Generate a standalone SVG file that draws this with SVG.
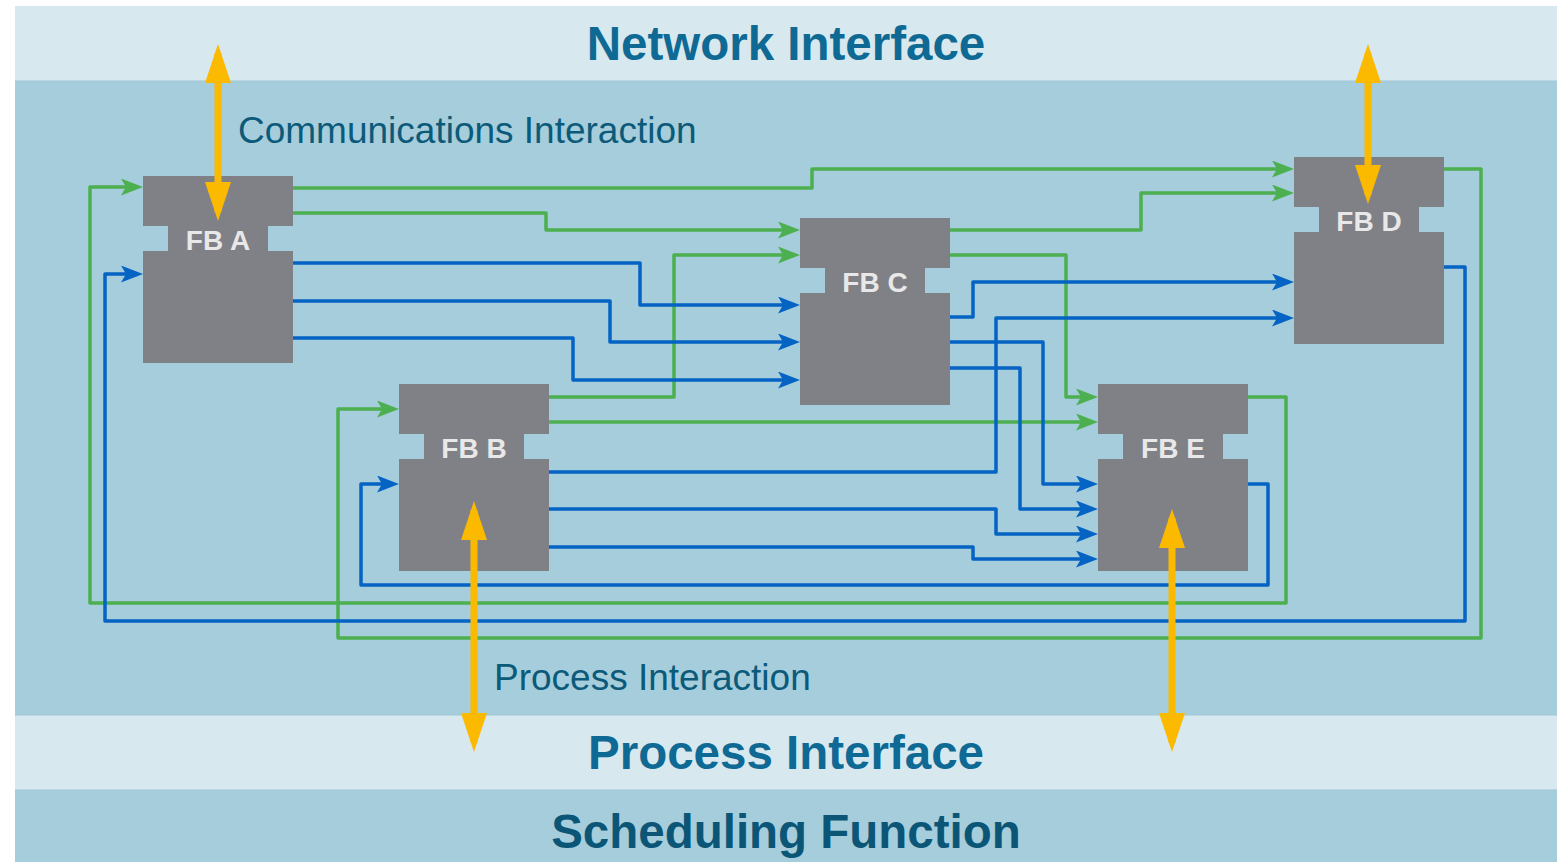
<svg xmlns="http://www.w3.org/2000/svg" width="1568" height="862" viewBox="0 0 1568 862">
  <style>
    .band-light { fill: #d8e8ef; }
    .band-dark { fill: #a6cddb; }
    .title { font-family: "Liberation Sans", Arial, sans-serif; font-weight: bold; font-size: 47.5px; text-anchor: middle; fill: #0e6a94; }
    .title-dark { fill: #0b5677; }
    .note { font-family: "Liberation Sans", Arial, sans-serif; font-size: 37px; fill: #0b5a7a; }
    .fb { fill: #808186; }
    .fb-label { font-family: "Liberation Sans", Arial, sans-serif; font-weight: bold; font-size: 28px; text-anchor: middle; fill: #e8e8e8; }
    .g { fill: none; stroke: #4caf50; stroke-width: 3.5; stroke-linejoin: round; marker-end: url(#headGreen); }
    .b { fill: none; stroke: #0563c4; stroke-width: 3.5; stroke-linejoin: round; marker-end: url(#headBlue); }
    .io { stroke: #fbb900; stroke-width: 7; marker-start: url(#headYellow); marker-end: url(#headYellow); }
  </style>
  <defs>
    <path id="fbShape" d="M0,0 H150 V50 H125 V75 H150 V187 H0 V75 H25 V50 H0 Z"/>
    <marker id="headGreen" viewBox="0 0 22 17" refX="16" refY="8.5" markerWidth="22" markerHeight="17" markerUnits="userSpaceOnUse" orient="auto">
      <path d="M0,0 L22,8.5 L0,17 L5,8.5 Z" fill="#4caf50"/>
    </marker>
    <marker id="headBlue" viewBox="0 0 22 17" refX="16" refY="8.5" markerWidth="22" markerHeight="17" markerUnits="userSpaceOnUse" orient="auto">
      <path d="M0,0 L22,8.5 L0,17 L5,8.5 Z" fill="#0563c4"/>
    </marker>
    <marker id="headYellow" viewBox="0 0 39 26" refX="30" refY="13" markerWidth="39" markerHeight="26" markerUnits="userSpaceOnUse" orient="auto-start-reverse">
      <path d="M0,0 L39,13 L0,26 Z" fill="#fbb900"/>
    </marker>
  </defs>

  <!-- layer bands -->
  <rect x="0" y="0" width="1568" height="862" fill="#ffffff"/>
  <rect class="band-light" x="15" y="6" width="1542" height="75"/>
  <rect class="band-dark" x="15" y="81" width="1542" height="634"/>
  <rect class="band-light" x="15" y="715" width="1542" height="75"/>
  <rect class="band-dark" x="15" y="790" width="1542" height="72"/>
  <line x1="15" y1="81" x2="1557" y2="81" stroke="#9fc7d6" stroke-width="1"/>
  <line x1="15" y1="715" x2="1557" y2="715" stroke="#9fc7d6" stroke-width="1"/>
  <line x1="15" y1="790" x2="1557" y2="790" stroke="#9fc7d6" stroke-width="1"/>

  <text class="title" x="786" y="60">Network Interface</text>
  <text class="title" x="786" y="769">Process Interface</text>
  <text class="title title-dark" x="786" y="848">Scheduling Function</text>
  <text class="note" x="238" y="143">Communications Interaction</text>
  <text class="note" x="494" y="690">Process Interaction</text>

  <!-- data (green) and event (blue) connections -->
  <g id="connectors">
    <path class="g" d="M293,188 H812 V169 H1288"/>
    <path class="g" d="M293,213 H546 V230 H794"/>
    <path class="g" d="M549,397 H674 V255 H794"/>
    <path class="g" d="M549,422 H1092"/>
    <path class="g" d="M950,230 H1141 V193 H1288"/>
    <path class="g" d="M950,255 H1066 V397 H1092"/>
    <path class="g" d="M1444,169 H1481 V638 H338 V409 H393"/>
    <path class="g" d="M1248,397 H1286 V603 H90 V187 H137"/>

    <path class="b" d="M293,263 H640 V305 H794"/>
    <path class="b" d="M293,301 H610 V342 H794"/>
    <path class="b" d="M293,338 H573 V380 H794"/>
    <path class="b" d="M549,472 H996 V318 H1288"/>
    <path class="b" d="M549,509 H996 V534 H1092"/>
    <path class="b" d="M549,547 H973 V559 H1092"/>
    <path class="b" d="M950,317 H973 V282 H1288"/>
    <path class="b" d="M950,342 H1043 V484 H1092"/>
    <path class="b" d="M950,368 H1020 V509 H1092"/>
    <path class="b" d="M1444,267 H1465 V621 H105 V274 H137"/>
    <path class="b" d="M1248,484 H1268 V585 H361 V484 H393"/>
  </g>

  <!-- function blocks -->
  <g id="fb-a">
    <use href="#fbShape" class="fb" x="143" y="176"/>
    <text class="fb-label" x="218" y="250">FB A</text>
  </g>
  <g id="fb-b">
    <use href="#fbShape" class="fb" x="399" y="384"/>
    <text class="fb-label" x="474" y="458">FB B</text>
  </g>
  <g id="fb-c">
    <use href="#fbShape" class="fb" x="800" y="218"/>
    <text class="fb-label" x="875" y="292">FB C</text>
  </g>
  <g id="fb-d">
    <use href="#fbShape" class="fb" x="1294" y="157"/>
    <text class="fb-label" x="1369" y="231">FB D</text>
  </g>
  <g id="fb-e">
    <use href="#fbShape" class="fb" x="1098" y="384"/>
    <text class="fb-label" x="1173" y="458">FB E</text>
  </g>

  <!-- interface interactions -->
  <g id="interactions">
    <line class="io" x1="218" y1="53" x2="218" y2="212"/>
    <line class="io" x1="1368" y1="53" x2="1368" y2="195"/>
    <line class="io" x1="474" y1="510" x2="474" y2="743"/>
    <line class="io" x1="1172" y1="518" x2="1172" y2="743"/>
  </g>
</svg>
